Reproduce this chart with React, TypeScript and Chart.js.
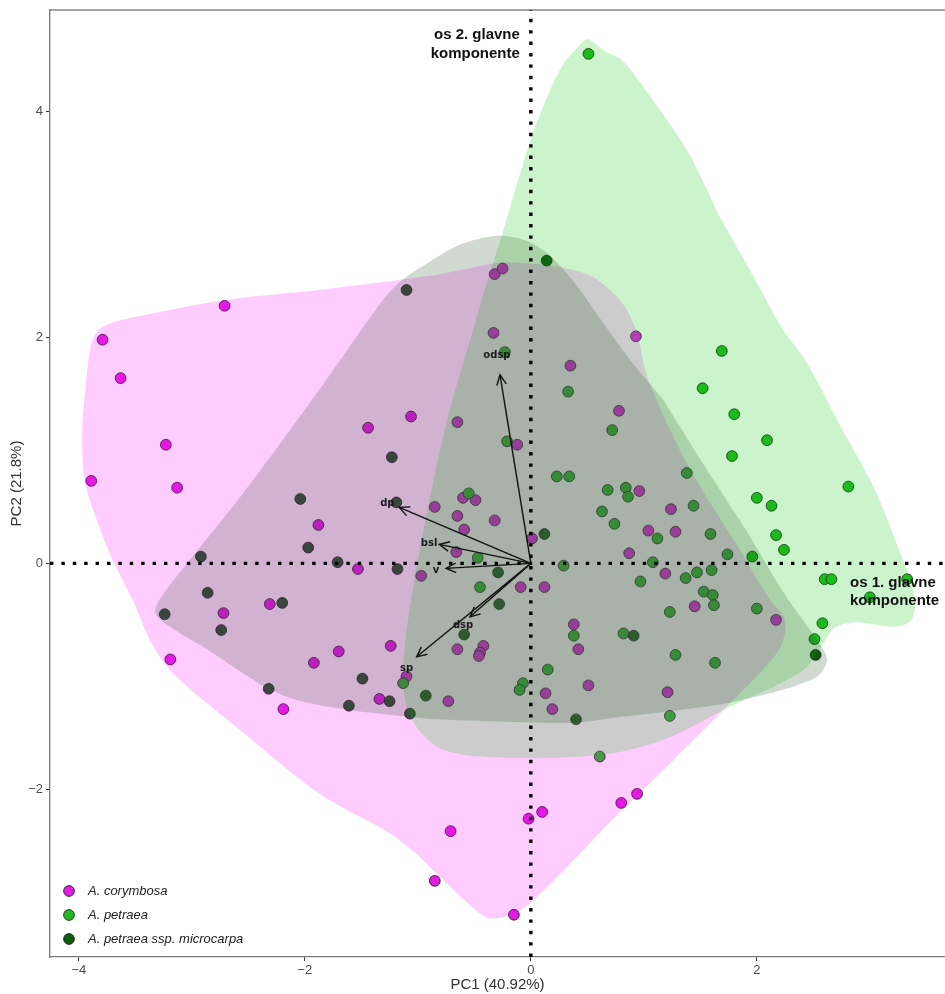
import { useEffect, useRef } from 'react';
import { Chart, registerables } from 'chart.js';

Chart.register(...registerables);

type Pt = [number, number];

const groupNames = ['A. corymbosa', 'A. petraea', 'A. petraea ssp. microcarpa'];
const groupColors = ['#E01EE0', '#22B822', '#105A12'];
const hullColors = ['rgba(255,0,255,0.2)', 'rgba(0,200,0,0.2)', 'rgba(25,70,25,0.2)'];

// PCA scores (PC1, PC2)
const corymbosa: Pt[] = [
  [-2.71, 2.28], [-3.79, 1.98], [-3.63, 1.64], [-3.23, 1.05], [-3.89, 0.73], [-3.13, 0.67],
  [-1.88, 0.34], [-2.31, -0.36], [-2.72, -0.44], [-1.53, -0.05], [-3.19, -0.85], [-1.92, -0.88],
  [-1.70, -0.78], [-1.24, -0.73], [-1.34, -1.20], [-2.19, -1.29], [-1.44, 1.20], [-1.06, 1.30],
  [-0.65, 1.25], [-0.85, 0.50], [-0.60, 0.58], [-0.49, 0.56], [-0.65, 0.42], [-0.32, 0.38],
  [-0.59, 0.30], [0.01, 0.22], [-0.66, 0.10], [-0.97, -0.11], [-0.09, -0.21], [0.12, -0.21],
  [0.38, -0.54], [0.42, -0.76], [-0.65, -0.76], [-0.42, -0.73], [-0.45, -0.79], [-0.46, -0.82],
  [-1.10, -1.00], [-0.73, -1.22], [0.13, -1.15], [0.51, -1.08], [0.19, -1.29], [-0.33, 2.04],
  [-0.32, 2.56], [-0.25, 2.61], [0.35, 1.75], [0.78, 1.35], [0.93, 2.01], [-0.12, 1.05],
  [0.96, 0.64], [1.24, 0.48], [1.04, 0.29], [1.28, 0.28], [0.87, 0.09], [1.19, -0.09],
  [1.45, -0.38], [2.17, -0.50], [1.21, -1.14], [-0.71, -2.37], [-0.85, -2.81], [-0.15, -3.11],
  [-0.02, -2.26], [0.10, -2.20], [0.80, -2.12], [0.94, -2.04],
];

const petraea: Pt[] = [
  [0.51, 4.51], [-0.23, 1.87], [0.33, 1.52], [0.72, 1.18], [1.69, 1.88], [1.52, 1.55],
  [1.80, 1.32], [2.09, 1.09], [1.78, 0.95], [1.38, 0.80], [2.81, 0.68], [2.00, 0.58],
  [2.13, 0.51], [2.24, 0.12], [2.17, 0.25], [-0.21, 1.08], [0.23, 0.77], [0.34, 0.77],
  [0.68, 0.65], [0.63, 0.46], [0.74, 0.35], [0.84, 0.67], [0.86, 0.59], [1.44, 0.51],
  [1.12, 0.22], [1.59, 0.26], [1.74, 0.08], [1.96, 0.06], [1.08, 0.01], [-0.55, 0.62],
  [-0.47, 0.05], [0.29, -0.02], [-0.45, -0.21], [1.47, -0.08], [1.60, -0.06], [1.37, -0.13],
  [0.97, -0.16], [1.53, -0.25], [1.61, -0.28], [1.62, -0.37], [1.23, -0.43], [2.00, -0.40],
  [2.60, -0.14], [2.66, -0.14], [3.33, -0.14], [3.00, -0.30], [2.58, -0.53], [2.51, -0.67],
  [0.38, -0.64], [0.82, -0.62], [0.15, -0.94], [-0.07, -1.06], [-0.10, -1.12], [-1.13, -1.06],
  [1.28, -0.81], [1.63, -0.88], [1.23, -1.35], [0.61, -1.71],
];

const microcarpa: Pt[] = [
  [0.14, 2.68], [-1.10, 2.42], [-1.23, 0.94], [-2.04, 0.57], [-1.19, 0.54], [-1.97, 0.14],
  [-2.92, 0.06], [-1.71, 0.01], [-1.18, -0.05], [-2.86, -0.26], [-3.24, -0.45], [-2.74, -0.59],
  [-2.20, -0.35], [-2.32, -1.11], [-1.49, -1.02], [-1.61, -1.26], [-1.25, -1.22], [-0.93, -1.17],
  [-1.07, -1.33], [0.12, 0.26], [-0.29, -0.08], [-0.28, -0.36], [-0.59, -0.63], [0.40, -1.38],
  [0.91, -0.64], [2.52, -0.81],
];

// group outlines (PC1, PC2)
const corymbosaHull: Pt[] = [
  [-1.87, 2.42], [-0.80, 2.56], [-0.27, 2.66], [0.13, 2.64], [0.52, 2.55], [0.79, 2.33],
  [0.93, 2.07], [1.04, 1.62], [1.41, 0.83], [1.85, 0.12], [2.10, -0.30], [2.25, -0.50],
  [2.21, -0.74], [1.98, -1.02], [1.76, -1.24], [1.08, -1.92], [0.79, -2.20], [-0.01, -3.01],
  [-0.23, -3.13], [-0.42, -3.12], [-1.16, -2.45], [-1.87, -2.04], [-2.64, -1.42], [-3.17, -0.97],
  [-3.37, -0.68], [-3.52, -0.33], [-3.70, 0.03], [-3.84, 0.38], [-3.95, 0.74], [-3.97, 1.18],
  [-3.94, 1.56], [-3.90, 1.89], [-3.84, 2.05], [-3.71, 2.13], [-3.46, 2.19], [-2.72, 2.33],
  [-1.87, 2.42],
];

const petraeaHull: Pt[] = [
  [1.67, 3.07], [1.97, 2.54], [2.23, 2.07], [2.44, 1.78], [2.71, 1.27], [3.03, 0.68],
  [3.27, 0.09], [3.37, -0.19], [3.40, -0.39], [3.35, -0.52], [3.18, -0.56], [2.87, -0.52],
  [2.69, -0.57], [2.58, -0.72], [2.43, -0.93], [2.21, -1.06], [1.76, -1.27], [1.23, -1.54],
  [0.79, -1.67], [0.26, -1.72], [-0.45, -1.71], [-0.80, -1.64], [-0.98, -1.49], [-1.09, -1.30],
  [-1.13, -1.03], [-1.11, -0.68], [-1.04, -0.21], [-0.92, 0.45], [-0.74, 1.27], [-0.51, 2.07],
  [-0.39, 2.48], [-0.27, 2.86], [-0.12, 3.37], [0.02, 3.81], [0.17, 4.19], [0.30, 4.44],
  [0.40, 4.55], [0.50, 4.64], [0.66, 4.53], [0.81, 4.45], [1.08, 4.10], [1.38, 3.66],
  [1.67, 3.07],
];

const microcarpaHull: Pt[] = [
  [1.17, 1.45], [1.50, 0.92], [1.90, 0.30], [2.25, -0.28], [2.47, -0.59], [2.62, -0.84],
  [2.55, -0.99], [2.38, -1.07], [2.12, -1.15], [1.67, -1.25], [1.14, -1.32], [0.79, -1.36],
  [0.39, -1.41], [-0.27, -1.40], [-1.07, -1.36], [-2.16, -1.18], [-2.93, -0.72], [-3.15, -0.59],
  [-3.32, -0.45], [-3.28, -0.31], [-2.57, 0.59], [-1.87, 1.54], [-1.34, 2.29], [-1.16, 2.49],
  [-0.94, 2.64], [-0.63, 2.82], [-0.30, 2.90], [-0.05, 2.86], [0.15, 2.74], [0.39, 2.48],
  [0.61, 2.17], [0.88, 1.80], [1.17, 1.45],
];

// variable loadings
const loadingNames = ['odsp', 'dp', 'bsl', 'v', 'dsp', 'sp'];
const loadingPC1 = [-0.273, -1.164, -0.81, -0.75, -0.538, -1.01];
const loadingPC2 = [1.668, 0.496, 0.168, -0.044, -0.473, -0.827];
const loadingLabelPC1 = [-0.30, -1.27, -0.90, -0.84, -0.60, -1.10];
const loadingLabelPC2 = [1.84, 0.53, 0.18, -0.06, -0.55, -0.93];

const xTicks = [-4, -2, 0, 2];
const yTicks = [-2, 0, 2, 4];
const xRange = [-4.255, 3.665];
const yRange = [-3.484, 4.898];

const axisTitles = ['PC1 (40.92%)', 'PC2 (21.8%)'];
const noteTexts = [
  ['os 2. glavne', 'komponente'],
  ['os 1. glavne', 'komponente'],
];

const FONT = "'Liberation Sans', Arial, Helvetica, sans-serif";

const fmt = (v: number) => (v < 0 ? '\u2212' + Math.abs(v) : String(v));

const overlayPlugin = {
  id: 'overlay',
  afterDatasetsDraw(chart: any) {
    const { ctx, chartArea, scales } = chart;
    const xs = scales.x;
    const ys = scales.y;
    ctx.save();
    // top frame line
    ctx.strokeStyle = '#4d4d4d';
    ctx.lineWidth = 1.2;
    ctx.beginPath();
    ctx.moveTo(chartArea.left, chartArea.top);
    ctx.lineTo(chartArea.right, chartArea.top);
    ctx.stroke();

    // arrow heads
    chart.data.datasets.forEach((ds: any, i: number) => {
      if (!ds.isLoading) return;
      const meta = chart.getDatasetMeta(i);
      const a = meta.data[0];
      const b = meta.data[1];
      if (!a || !b) return;
      const ang = Math.atan2(b.y - a.y, b.x - a.x);
      const L = 11;
      const spread = Math.PI / 7;
      ctx.strokeStyle = '#111';
      ctx.lineWidth = 1.4;
      ctx.beginPath();
      ctx.moveTo(b.x - L * Math.cos(ang - spread), b.y - L * Math.sin(ang - spread));
      ctx.lineTo(b.x, b.y);
      ctx.lineTo(b.x - L * Math.cos(ang + spread), b.y - L * Math.sin(ang + spread));
      ctx.stroke();
    });

    // loading labels
    ctx.fillStyle = '#1a1a1a';
    ctx.font = "bold 10px 'DejaVu Sans', sans-serif";
    ctx.textAlign = 'center';
    ctx.textBaseline = 'middle';
    loadingNames.forEach((n, i) => {
      ctx.fillText(n, xs.getPixelForValue(loadingLabelPC1[i]), ys.getPixelForValue(loadingLabelPC2[i]));
    });

    // axis notes
    ctx.fillStyle = '#111';
    ctx.font = `bold 15px ${FONT}`;
    ctx.textBaseline = 'alphabetic';
    ctx.textAlign = 'right';
    const n2x = xs.getPixelForValue(0) - 11;
    const n2y = chartArea.top + 29;
    noteTexts[0].forEach((t, k) => ctx.fillText(t, n2x, n2y + k * 19));
    ctx.textAlign = 'left';
    const n1x = chartArea.right - 95;
    const n1y = ys.getPixelForValue(0) + 23.5;
    noteTexts[1].forEach((t, k) => ctx.fillText(t, n1x, n1y + k * 18.5));

    // legend
    const lx = chartArea.left + 19;
    const rows = [chartArea.bottom - 66, chartArea.bottom - 42, chartArea.bottom - 18];
    ctx.font = `italic 13px ${FONT}`;
    ctx.textBaseline = 'middle';
    ctx.textAlign = 'left';
    groupNames.forEach((name, i) => {
      ctx.beginPath();
      ctx.arc(lx, rows[i], 5.4, 0, Math.PI * 2);
      ctx.fillStyle = groupColors[i];
      ctx.fill();
      ctx.strokeStyle = 'rgba(20,20,20,0.9)';
      ctx.lineWidth = 0.9;
      ctx.stroke();
      ctx.fillStyle = '#222';
      ctx.fillText(name, lx + 19, rows[i]);
    });
    ctx.restore();
  },
};

export default function App() {
  const canvasRef = useRef<HTMLCanvasElement | null>(null);

  useEffect(() => {
    document.body.style.margin = '0';
    const canvas = canvasRef.current;
    if (!canvas) return;
    const toXY = (pts: Pt[]) => pts.map(([x, y]) => ({ x, y }));
    const pointSets = [corymbosa, petraea, microcarpa];
    const hullSets = [corymbosaHull, petraeaHull, microcarpaHull];
    const datasets: any[] = [];

    pointSets.forEach((pts, i) => {
      datasets.push({
        type: 'scatter',
        label: groupNames[i],
        data: toXY(pts),
        pointRadius: 5.4,
        pointHoverRadius: 5.4,
        pointBackgroundColor: groupColors[i],
        pointBorderColor: 'rgba(20,20,20,0.9)',
        pointBorderWidth: 0.9,
        order: 20 - i,
      });
    });

    hullSets.forEach((pts, i) => {
      datasets.push({
        type: 'line',
        label: groupNames[i] + ' outline',
        data: toXY(pts),
        borderColor: 'rgba(0,0,0,0)',
        borderWidth: 0,
        backgroundColor: hullColors[i],
        fill: 'shape',
        tension: 0.3,
        pointRadius: 0,
        pointHoverRadius: 0,
        order: 10 - i,
      });
    });

    datasets.push({
      type: 'line',
      label: 'PC1 axis',
      data: [{ x: xRange[0], y: 0 }, { x: xRange[1], y: 0 }],
      borderColor: '#000',
      borderWidth: 3.4,
      borderDash: [3.4, 8],
      borderCapStyle: 'butt',
      pointRadius: 0,
      fill: false,
      order: 4,
    });
    datasets.push({
      type: 'line',
      label: 'PC2 axis',
      data: [{ x: 0, y: yRange[0] }, { x: 0, y: yRange[1] }],
      borderColor: '#000',
      borderWidth: 3.4,
      borderDash: [3.4, 8],
      borderCapStyle: 'butt',
      pointRadius: 0,
      fill: false,
      order: 4,
    });

    loadingNames.forEach((n, i) => {
      datasets.push({
        type: 'line',
        label: n,
        isLoading: true,
        data: [{ x: 0, y: 0 }, { x: loadingPC1[i], y: loadingPC2[i] }],
        borderColor: '#111',
        borderWidth: 1.4,
        pointRadius: 0,
        fill: false,
        order: 2,
      });
    });

    const tickFont = { family: FONT, size: 13 };
    const titleFont = { family: FONT, size: 15 };

    const chart = new Chart(canvas, {
      type: 'scatter',
      data: { datasets },
      options: {
        responsive: true,
        maintainAspectRatio: false,
        animation: false,
        events: [],
        layout: { autoPadding: false, padding: { top: 10, left: 0, right: 0, bottom: 0 } },
        plugins: {
          legend: { display: false },
          tooltip: { enabled: false },
        },
        scales: {
          x: {
            type: 'linear',
            min: xRange[0],
            max: xRange[1],
            afterBuildTicks: (s: any) => {
              s.ticks = xTicks.map((v) => ({ value: v }));
            },
            afterFit: (s: any) => {
              s.height = 37;
              s.paddingLeft = 0;
              s.paddingRight = 0;
            },
            ticks: {
              color: '#4d4d4d',
              font: tickFont,
              padding: 2,
              maxRotation: 0,
              autoSkip: false,
              callback: (v: any) => fmt(Number(v)),
            },
            grid: {
              display: true,
              drawOnChartArea: false,
              drawTicks: true,
              tickLength: 4,
              tickColor: '#333',
              tickWidth: 1,
            },
            border: { display: true, color: '#7a7a7a', width: 1.3 },
            title: {
              display: true,
              text: axisTitles[0],
              color: '#333',
              font: titleFont,
              padding: { top: 0, bottom: 0 },
            },
          },
          y: {
            type: 'linear',
            min: yRange[0],
            max: yRange[1],
            afterBuildTicks: (s: any) => {
              s.ticks = yTicks.map((v) => ({ value: v }));
            },
            afterFit: (s: any) => {
              s.width = 50;
              s.paddingTop = 0;
              s.paddingBottom = 0;
            },
            ticks: {
              color: '#4d4d4d',
              font: tickFont,
              padding: 3,
              autoSkip: false,
              callback: (v: any) => fmt(Number(v)),
            },
            grid: {
              display: true,
              drawOnChartArea: false,
              drawTicks: true,
              tickLength: 4,
              tickColor: '#333',
              tickWidth: 1,
            },
            border: { display: true, color: '#7a7a7a', width: 1.3 },
            title: {
              display: true,
              text: axisTitles[1],
              color: '#333',
              font: titleFont,
              padding: { top: 8, bottom: 0 },
            },
          },
        },
      } as any,
      plugins: [overlayPlugin],
    });

    return () => {
      chart.destroy();
    };
  }, []);

  return (
    <div style={{ position: 'relative', width: 945, height: 994 }}>
      <canvas ref={canvasRef} />
    </div>
  );
}
